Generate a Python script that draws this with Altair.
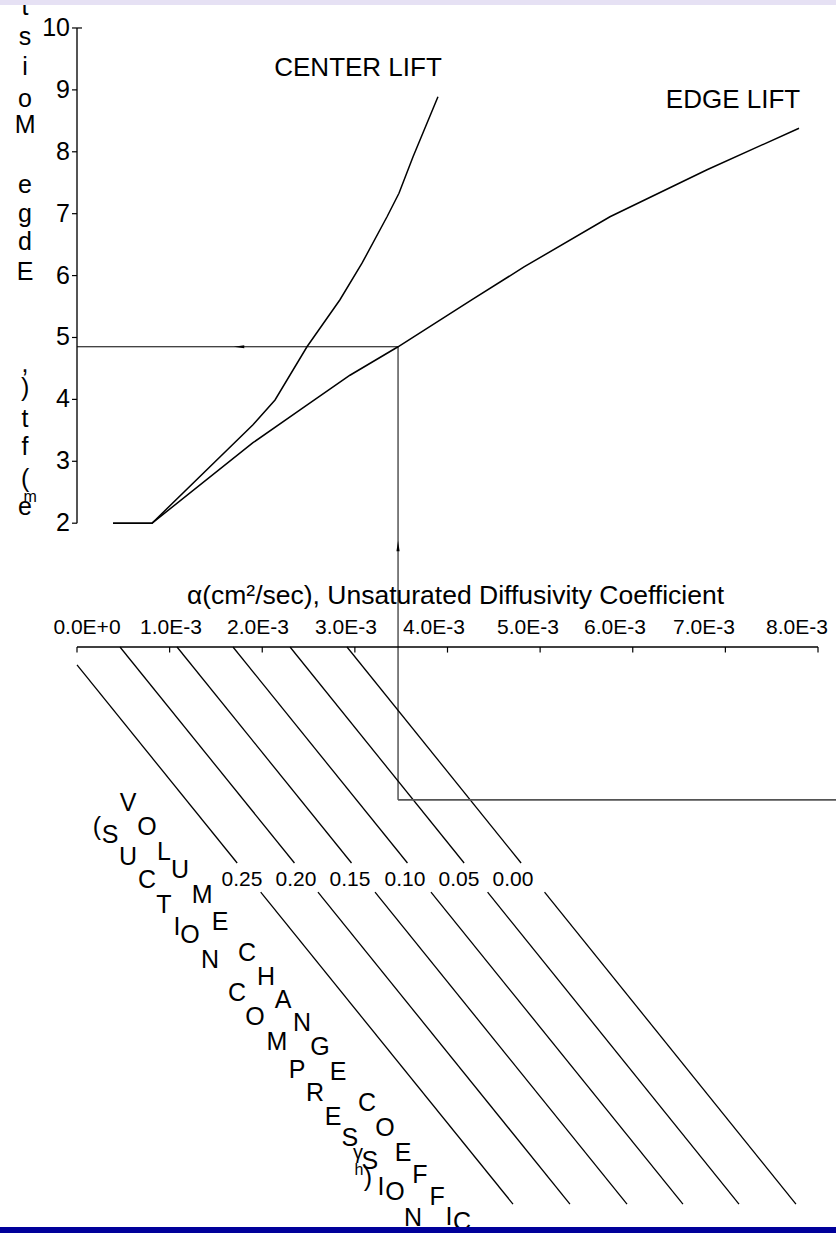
import altair as alt
import pandas as pd

# ---------------- data (alpha in units of 1e-3 cm^2/sec) ----------------
alpha_ticks = [0, 1, 2, 3, 4, 5, 6, 7, 8]
alpha_tick_labels = ["0.0E+0", "1.0E-3", "2.0E-3", "3.0E-3", "4.0E-3",
                     "5.0E-3", "6.0E-3", "7.0E-3", "8.0E-3"]
alpha_label_pos = [0.108, 1.015, 1.954, 2.904, 3.854, 4.869, 5.808, 6.769, 7.773]
lift_ticks = [2, 3, 4, 5, 6, 7, 8, 9, 10]

edge_alpha = [0.389, 0.810, 1.900, 2.408, 2.947, 3.466, 4.265, 4.826, 5.754,
              6.802, 7.795]
edge_lift = [2.0, 2.0, 3.30, 3.83, 4.39, 4.85, 5.61, 6.14, 6.95, 7.71, 8.38]
center_alpha = [0.389, 0.810, 1.900, 2.138, 2.483, 2.839, 3.077, 3.347, 3.476,
                3.628, 3.897]
center_lift = [2.0, 2.0, 3.59, 3.99, 4.85, 5.61, 6.20, 6.95, 7.33, 7.92, 8.89]

gamma_labels = ["0.25", "0.20", "0.15", "0.10", "0.05", "0.00"]
gamma_start_alpha = [0.0, 0.464, 1.080, 1.684, 2.300, 2.915]
gamma_start_v = [-0.29, 0.0, 0.0, 0.0, 0.0, 0.0]
gamma_end_alpha = [4.707, 5.322, 5.938, 6.542, 7.147, 7.762]
gamma_end_v = -9.0
gamma_label_alpha = [1.781, 2.364, 2.947, 3.541, 4.124, 4.707]
gamma_label_v = -3.76
gap_top_v, gap_bottom_v = -3.49, -3.96

design_alpha = 3.466
design_lift = 4.85
box_v = -2.47
box_right_alpha = 8.6

ytitle_chars = ["t", "s", "i", "o", "M", "e", "g", "d", "E", ",", ")", "t", "f", "(", "e"]
ytitle_v = [10.21, 9.72, 9.24, 8.72, 8.30, 7.33, 6.87, 6.41, 5.93, 4.44, 4.05,
            3.55, 3.10, 2.58, 2.13]
ytitle_alpha = -0.561

diagA_chars = list("VOLUMECHANGECOEFFIC")
diagA_alpha = [0.551, 0.756, 0.939, 1.112, 1.350, 1.544, 1.835, 2.040, 2.224, 2.429,
               2.623, 2.818, 3.131, 3.325, 3.520, 3.703, 3.887, 4.016, 4.157]
diagA_v = [-2.52, -2.91, -3.31, -3.60, -4.01, -4.44, -4.94, -5.33, -5.70, -6.08,
           -6.46, -6.87, -7.37, -7.77, -8.18, -8.53, -8.89, -9.21, -9.29]
diagB_chars = list("(SUCTIONCOMPRESSION") + [")"]
diagB_alpha = [0.216, 0.356, 0.551, 0.756, 0.939, 1.080, 1.220, 1.436, 1.727, 1.922,
               2.159, 2.375, 2.569, 2.764, 2.947, 3.162, 3.282, 3.433, 3.627, 3.142]
diagB_v = [-2.91, -3.04, -3.39, -3.76, -4.17, -4.52, -4.65, -5.06, -5.59, -5.98,
           -6.38, -6.84, -7.21, -7.59, -7.93, -8.30, -8.72, -8.80, -9.22, -8.58]
small_chars = ["m", "γ", "h"]
small_alpha = [-0.507, 3.034, 3.045]
small_v = [2.34, -8.27, -8.53]
small_size = [16, 20, 16]

labels_lift = ["CENTER LIFT", "EDGE LIFT"]
labels_lift_alpha = [3.034, 7.082]
labels_lift_v = [9.354, 8.837]

# ---------------- scales ----------------
FONT = "Liberation Sans"
xs = alt.Scale(domain=[-0.8313, 8.1943], nice=False, zero=False)
ys = alt.Scale(domain=[-9.467, 10.452], nice=False, zero=False)


def X(f="a"):
    return alt.X(f"{f}:Q", scale=xs, axis=None)


def Y(f="v"):
    return alt.Y(f"{f}:Q", scale=ys, axis=None)


def text_layer(df, size, align="center", baseline="middle"):
    return alt.Chart(df).mark_text(
        font=FONT, fontSize=size, color="black", align=align, baseline=baseline).encode(
        x=X(), y=Y(), text="t:N")


# frame bands
top_band = alt.Chart(pd.DataFrame({"k": [0]})).mark_rect(color="#E6E1F4").encode(
    x=alt.value(0), x2=alt.value(836), y=alt.value(0), y2=alt.value(5))
bottom_band = alt.Chart(pd.DataFrame({"k": [0]})).mark_rect(color="#00009A").encode(
    x=alt.value(0), x2=alt.value(836), y=alt.value(1227), y2=alt.value(1233))

# y axis (lift)
yaxis_df = pd.DataFrame({"a": [0.0], "v": [min(lift_ticks)], "v2": [max(lift_ticks)]})
yaxis_line = alt.Chart(yaxis_df).mark_rule(color="#555555", strokeWidth=2).encode(
    x=X(), y=Y(), y2="v2:Q")
ytick_df = pd.DataFrame({"a": [-0.054] * len(lift_ticks),
                         "a2": [0.054 if t == max(lift_ticks) else 0.0 for t in lift_ticks],
                         "v": lift_ticks})
yaxis_ticks = alt.Chart(ytick_df).mark_rule(color="black", strokeWidth=1.2).encode(
    x=X(), x2="a2:Q", y=Y())
ylab_df = pd.DataFrame({"a": [-0.076] * len(lift_ticks), "v": lift_ticks,
                        "t": [str(t) for t in lift_ticks]})
yaxis_labels = text_layer(ylab_df, 25, align="right")

# alpha axis
aaxis_df = pd.DataFrame({"a": [min(alpha_ticks)], "a2": [max(alpha_ticks)], "v": [0.0]})
aaxis_line = alt.Chart(aaxis_df).mark_rule(color="black", strokeWidth=1.3).encode(
    x=X(), x2="a2:Q", y=Y())
atick_df = pd.DataFrame({"a": alpha_ticks, "v": [0.0] * 9, "v2": [-0.09] * 9})
aaxis_ticks = alt.Chart(atick_df).mark_rule(color="black", strokeWidth=1.2).encode(
    x=X(), y=Y(), y2="v2:Q")
alab_df = pd.DataFrame({"a": alpha_label_pos, "v": [0.21] * 9, "t": alpha_tick_labels})
aaxis_labels = text_layer(alab_df, 21, baseline="alphabetic")
atitle_df = pd.DataFrame({"a": [4.086], "v": [0.69],
                          "t": ["α(cm²/sec), Unsaturated Diffusivity Coefficient"]})
aaxis_title = text_layer(atitle_df, 26.5, baseline="alphabetic")

# gamma lines, broken around their labels
seg_rows = []
for i, g in enumerate(gamma_labels):
    a0, v0 = gamma_start_alpha[i], gamma_start_v[i]
    a1, v1 = gamma_end_alpha[i], gamma_end_v

    def at(v):
        return a0 + (a1 - a0) * (v - v0) / (v1 - v0)

    seg_rows.append({"a": a0, "v": v0, "a2": at(gap_top_v), "v2": gap_top_v, "g": g})
    seg_rows.append({"a": at(gap_bottom_v), "v": gap_bottom_v, "a2": a1, "v2": v1, "g": g})
gamma_lines = alt.Chart(pd.DataFrame(seg_rows)).mark_rule(
    color="black", strokeWidth=1.3).encode(x=X(), y=Y(), x2="a2:Q", y2="v2:Q")
glab_df = pd.DataFrame({"a": gamma_label_alpha, "v": [gamma_label_v] * 6, "t": gamma_labels})
gamma_text = text_layer(glab_df, 21)

# lift curves
curve_df = pd.concat([
    pd.DataFrame({"a": edge_alpha, "v": edge_lift, "s": "edge",
                  "o": range(len(edge_alpha))}),
    pd.DataFrame({"a": center_alpha, "v": center_lift, "s": "center",
                  "o": range(len(center_alpha))}),
])
curves = alt.Chart(curve_df).mark_line(color="black", strokeWidth=1.5).encode(
    x=X(), y=Y(), detail="s:N", order="o:Q")
lift_text = text_layer(pd.DataFrame({"a": labels_lift_alpha, "v": labels_lift_v,
                                     "t": labels_lift}), 26)

# design path (arrows)
hpath = alt.Chart(pd.DataFrame({"a": [0.0], "a2": [design_alpha], "v": [design_lift]})).mark_rule(
    color="black", strokeWidth=1).encode(x=X(), x2="a2:Q", y=Y())
vpath = alt.Chart(pd.DataFrame({"a": [design_alpha], "v": [box_v], "v2": [design_lift]})).mark_rule(
    color="black", strokeWidth=1).encode(x=X(), y=Y(), y2="v2:Q")
boxline = alt.Chart(pd.DataFrame({"a": [design_alpha], "a2": [box_right_alpha], "v": [box_v]})).mark_rule(
    color="#555555", strokeWidth=1.8, clip=True).encode(x=X(), x2="a2:Q", y=Y())
arrow_left = alt.Chart(pd.DataFrame({"a": [1.749], "v": [design_lift]})).mark_point(
    shape="M -1 0 L 1 -0.3 L 1 0.3 Z", filled=True, size=110, color="black", opacity=1).encode(
    x=X(), y=Y())
arrow_up = alt.Chart(pd.DataFrame({"a": [design_alpha], "v": [1.63]})).mark_point(
    shape="M 0 -1 L -0.3 1 L 0.3 1 Z", filled=True, size=110, color="black", opacity=1).encode(
    x=X(), y=Y())

# stacked-letter titles
ytitle = text_layer(pd.DataFrame({"a": [ytitle_alpha] * len(ytitle_chars), "v": ytitle_v,
                                  "t": ytitle_chars}), 25, baseline="alphabetic")
diag_text = text_layer(pd.DataFrame({"a": diagA_alpha + diagB_alpha, "v": diagA_v + diagB_v,
                                     "t": diagA_chars + diagB_chars}), 25)
small_layers = [
    text_layer(pd.DataFrame({"a": [small_alpha[i]], "v": [small_v[i]], "t": [small_chars[i]]}),
               small_size[i], baseline="alphabetic")
    for i in range(len(small_chars))
]

chart = alt.layer(
    yaxis_line, yaxis_ticks, yaxis_labels, aaxis_line, aaxis_ticks, aaxis_labels, aaxis_title,
    gamma_lines, gamma_text, curves, lift_text, hpath, vpath, boxline,
    arrow_left, arrow_up, ytitle, diag_text, *small_layers, top_band, bottom_band,
).properties(
    width=836, height=1233, background="white", padding=0,
    autosize=alt.AutoSizeParams(type="none"),
).configure_view(stroke=None)

chart.save("out.html", embed_options={"renderer": "svg", "actions": False})
